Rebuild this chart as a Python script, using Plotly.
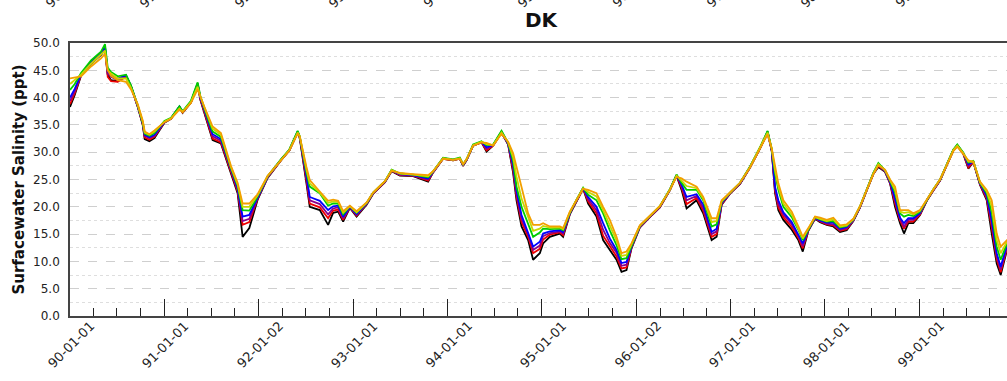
import datetime as dt
import plotly.graph_objects as go

# ---- data (decimal years, salinity ppt) ----
t_years = [1989.750, 1989.800, 1989.867, 1989.973, 1990.079, 1990.121, 1990.150, 1990.185, 1990.256, 1990.344,
           1990.397, 1990.468, 1990.521, 1990.542, 1990.592, 1990.645, 1990.751, 1990.821, 1990.910, 1990.944,
           1991.032, 1991.103, 1991.132, 1991.174, 1991.262, 1991.350, 1991.456, 1991.527, 1991.580, 1991.651,
           1991.739, 1991.845, 1991.986, 1992.075, 1992.163, 1992.185, 1992.256, 1992.291, 1992.397, 1992.485,
           1992.538, 1992.591, 1992.644, 1992.715, 1992.786, 1992.892, 1992.961, 1993.086, 1993.157, 1993.244,
           1993.385, 1993.544, 1993.597, 1993.703, 1993.809, 1993.880, 1993.915, 1993.951, 1994.021, 1994.110,
           1994.163, 1994.233, 1994.322, 1994.392, 1994.445, 1994.481, 1994.534, 1994.604, 1994.657, 1994.728,
           1994.763, 1994.834, 1994.940, 1994.975, 1995.046, 1995.117, 1995.187, 1995.240, 1995.329, 1995.399,
           1995.470, 1995.541, 1995.594, 1995.647, 1995.700, 1995.788, 1995.894, 1996.000, 1996.106, 1996.177,
           1996.230, 1996.283, 1996.389, 1996.459, 1996.548, 1996.601, 1996.654, 1996.742, 1996.848, 1996.954,
           1997.060, 1997.140, 1997.184, 1997.219, 1997.254, 1997.307, 1997.396, 1997.466, 1997.513, 1997.572,
           1997.643, 1997.696, 1997.767, 1997.837, 1997.908, 1997.979, 1998.049, 1998.120, 1998.191, 1998.261,
           1998.314, 1998.385, 1998.438, 1998.491, 1998.544, 1998.586, 1998.632, 1998.685, 1998.756, 1998.827,
           1998.897, 1998.968, 1999.039, 1999.109, 1999.151, 1999.215, 1999.268, 1999.321, 1999.392, 1999.463,
           1999.516, 1999.569, 1999.611, 1999.678, 1999.763]

s_black = [38.3, 40.5, 44.0, 46.2, 47.8, 48.8, 44.2, 43.2, 43.0, 44.0, 42.0, 38.3, 35.0, 32.4, 32.0, 32.6, 35.4, 36.1, 38.3, 37.2,
           39.1, 42.4, 39.6, 37.2, 32.2, 31.6, 26.2, 22.5, 14.5, 16.1, 21.3, 25.3, 28.5, 30.3, 33.6, 32.6, 24.3, 20.0, 19.4, 16.7,
           18.9, 19.1, 17.3, 19.8, 18.2, 20.4, 22.4, 24.5, 26.5, 25.7, 25.6, 24.6, 26.3, 28.8, 28.5, 28.8, 27.5, 28.5, 31.2, 31.8,
           30.1, 31.2, 33.6, 31.4, 26.2, 21.2, 16.4, 13.9, 10.3, 11.5, 13.3, 14.5, 15.1, 14.5, 18.6, 21.0, 23.3, 20.6, 18.2, 13.9,
           12.1, 10.3, 8.1, 8.4, 12.4, 16.2, 18.1, 19.9, 23.0, 25.7, 23.1, 19.7, 21.2, 18.8, 13.9, 14.5, 20.4, 22.4, 24.2, 27.2,
           30.7, 33.6, 30.2, 22.5, 19.4, 17.6, 15.8, 13.9, 11.8, 15.6, 17.8, 17.2, 16.7, 16.4, 15.4, 15.7, 17.4, 19.9, 23.0, 26.0,
           27.3, 26.4, 24.3, 20.0, 17.0, 15.1, 17.0, 17.0, 18.5, 21.1, 23.0, 24.8, 27.6, 30.3, 31.2, 29.7, 27.0, 28.2, 24.0, 21.2,
           15.1, 9.6, 7.5, 12.1, 14.5]

s_red = [38.8, 40.8, 44.1, 46.3, 47.9, 49.0, 43.8, 43.0, 42.9, 43.8, 42.0, 38.4, 35.1, 32.7, 32.3, 32.8, 35.5, 36.1, 38.3, 37.3,
         39.1, 42.5, 39.7, 37.4, 32.5, 31.8, 26.4, 22.8, 16.7, 17.2, 21.5, 25.4, 28.5, 30.3, 33.6, 32.7, 24.8, 20.6, 19.9, 17.9,
         19.3, 19.5, 17.6, 19.9, 18.4, 20.5, 22.4, 24.5, 26.6, 25.8, 25.7, 24.8, 26.3, 28.8, 28.5, 28.8, 27.6, 28.5, 31.2, 31.8,
         30.3, 31.2, 33.6, 31.5, 26.7, 21.8, 17.2, 14.5, 11.5, 12.3, 14.0, 14.9, 15.3, 14.8, 18.7, 21.1, 23.3, 21.0, 18.8, 14.7,
         12.7, 10.9, 8.7, 8.9, 12.5, 16.3, 18.1, 19.9, 23.0, 25.7, 23.5, 20.5, 21.6, 19.3, 14.5, 15.0, 20.5, 22.4, 24.2, 27.2,
         30.7, 33.6, 30.3, 22.9, 19.9, 18.1, 16.3, 14.3, 12.4, 15.7, 17.9, 17.3, 16.8, 16.6, 15.6, 15.9, 17.5, 19.9, 23.0, 26.0,
         27.5, 26.5, 24.4, 20.6, 17.5, 16.0, 17.3, 17.3, 18.6, 21.1, 23.0, 24.8, 27.6, 30.3, 31.2, 29.7, 27.2, 28.2, 24.1, 21.5,
         16.2, 10.4, 8.0, 12.4, 14.7]

s_purple = [39.4, 41.2, 44.2, 46.4, 48.0, 49.2, 44.4, 43.8, 43.2, 44.0, 42.0, 38.4, 35.2, 33.0, 32.6, 33.0, 35.5, 36.2, 38.3, 37.4,
            39.2, 42.5, 39.9, 37.6, 32.9, 32.1, 26.6, 23.1, 17.4, 17.8, 21.6, 25.4, 28.6, 30.4, 33.7, 32.8, 25.3, 21.2, 20.5, 18.6,
            19.7, 19.9, 17.9, 19.9, 18.5, 20.5, 22.5, 24.6, 26.6, 25.9, 25.7, 25.0, 26.4, 28.9, 28.6, 28.9, 27.6, 28.6, 31.3, 31.9,
            30.6, 31.3, 33.7, 31.5, 27.2, 22.4, 17.8, 15.0, 12.1, 12.9, 14.6, 15.2, 15.5, 15.1, 18.8, 21.1, 23.4, 21.4, 19.4, 15.8,
            13.4, 11.6, 9.2, 9.4, 12.6, 16.3, 18.2, 20.0, 23.1, 25.8, 23.8, 21.2, 22.0, 19.8, 15.0, 15.5, 20.6, 22.5, 24.3, 27.3,
            30.8, 33.7, 30.4, 23.3, 20.5, 18.6, 16.8, 14.7, 12.8, 15.8, 17.9, 17.4, 16.9, 16.8, 15.8, 16.1, 17.5, 20.0, 23.1, 26.1,
            27.7, 26.5, 24.5, 21.1, 17.8, 16.4, 17.6, 17.6, 18.8, 21.2, 23.1, 24.9, 27.7, 30.4, 31.3, 29.8, 27.5, 28.3, 24.2, 21.8,
            17.0, 11.0, 8.5, 12.7, 14.9]

s_blue = [40.0, 41.6, 44.3, 46.5, 48.1, 49.4, 44.8, 44.2, 43.5, 44.1, 42.1, 38.5, 35.3, 33.2, 32.8, 33.2, 35.6, 36.2, 38.4, 37.4,
          39.2, 42.6, 40.0, 37.8, 33.3, 32.4, 26.8, 23.4, 18.2, 18.5, 21.7, 25.5, 28.6, 30.4, 33.8, 32.8, 25.7, 21.8, 21.1, 19.4,
          20.1, 20.2, 18.2, 20.0, 18.7, 20.6, 22.5, 24.6, 26.7, 26.0, 25.8, 25.2, 26.4, 28.9, 28.6, 28.9, 27.7, 28.6, 31.3, 31.9,
          30.9, 31.3, 33.8, 31.6, 27.7, 23.0, 18.5, 15.4, 12.7, 13.6, 15.1, 15.5, 15.7, 15.4, 18.8, 21.2, 23.4, 21.8, 20.0, 17.0,
          14.2, 12.1, 9.7, 9.9, 12.7, 16.4, 18.2, 20.0, 23.1, 25.8, 24.1, 21.8, 22.3, 20.4, 15.4, 16.0, 20.7, 22.5, 24.3, 27.3,
          30.8, 33.8, 30.4, 23.7, 21.2, 19.0, 17.2, 15.0, 13.3, 15.8, 18.0, 17.5, 17.1, 17.1, 16.0, 16.3, 17.6, 20.0, 23.1, 26.1,
          27.8, 26.6, 24.6, 21.6, 18.0, 17.0, 17.9, 17.9, 18.9, 21.2, 23.1, 24.9, 27.7, 30.4, 31.3, 29.8, 27.8, 28.3, 24.3, 22.1,
          17.6, 11.5, 9.0, 13.0, 15.1]

s_green = [41.4, 42.5, 44.5, 46.8, 48.4, 49.8, 45.5, 44.7, 43.9, 44.2, 42.2, 38.6, 35.4, 33.4, 33.0, 33.5, 35.7, 36.3, 38.4, 37.5,
           39.4, 42.8, 40.3, 38.0, 33.8, 32.8, 27.1, 23.8, 19.4, 19.3, 21.9, 25.6, 28.7, 30.5, 33.9, 32.9, 26.3, 23.7, 22.5, 20.2,
           20.6, 20.6, 18.6, 20.1, 18.9, 20.7, 22.6, 24.7, 26.8, 26.1, 25.9, 25.4, 26.5, 29.0, 28.7, 29.0, 27.8, 28.7, 31.4, 32.0,
           31.3, 31.4, 33.9, 31.7, 28.4, 23.7, 20.0, 17.0, 14.5, 15.3, 16.0, 15.9, 16.0, 15.7, 18.9, 21.3, 23.5, 22.2, 21.2, 18.8,
           15.7, 13.0, 10.4, 10.6, 12.9, 16.5, 18.3, 20.1, 23.2, 25.9, 24.4, 23.1, 23.1, 21.2, 16.4, 16.8, 20.9, 22.6, 24.4, 27.4,
           30.9, 33.9, 30.6, 26.1, 23.1, 20.0, 18.1, 15.8, 13.9, 15.9, 18.1, 17.7, 17.3, 17.4, 16.2, 16.5, 17.7, 20.1, 23.2, 26.2,
           28.0, 26.7, 24.8, 22.6, 18.8, 18.2, 18.5, 18.3, 19.1, 21.3, 23.2, 25.0, 27.8, 30.5, 31.4, 29.9, 28.1, 28.4, 24.4, 22.5,
           19.0, 12.7, 10.3, 13.3, 15.3]

s_yellow = [42.5, 43.2, 44.2, 46.2, 47.8, 48.6, 45.0, 44.4, 43.5, 43.5, 41.8, 38.6, 35.6, 33.6, 33.2, 33.8, 35.6, 36.2, 38.0, 37.4,
            39.2, 42.0, 40.2, 38.2, 34.3, 33.2, 27.3, 24.1, 20.0, 20.0, 22.1, 25.6, 28.6, 30.4, 33.6, 32.9, 26.8, 24.3, 22.6, 20.7,
            21.0, 20.9, 18.9, 20.1, 19.0, 20.7, 22.6, 24.7, 26.7, 26.1, 25.9, 25.6, 26.5, 28.9, 28.6, 28.9, 27.8, 28.7, 31.3, 31.9,
            31.5, 31.3, 33.6, 31.8, 29.1, 25.5, 21.5, 17.9, 15.6, 16.0, 16.5, 16.2, 16.2, 15.9, 19.0, 21.3, 23.4, 22.7, 21.9, 19.4,
            16.7, 13.8, 11.0, 11.2, 13.1, 16.5, 18.3, 20.1, 23.1, 25.7, 24.8, 23.8, 23.4, 21.5, 17.2, 17.4, 21.0, 22.6, 24.4, 27.3,
            30.8, 33.6, 30.6, 26.7, 23.7, 20.6, 18.6, 16.1, 14.2, 16.0, 18.1, 17.8, 17.4, 17.7, 16.4, 16.6, 17.7, 20.1, 23.1, 26.1,
            27.8, 26.7, 24.9, 23.1, 19.1, 18.9, 19.0, 18.6, 19.3, 21.3, 23.2, 25.0, 27.7, 30.4, 31.2, 29.8, 28.3, 28.3, 24.5, 22.8,
            20.1, 13.9, 11.5, 13.6, 15.5]

s_orange = [43.5, 43.7, 43.9, 45.7, 47.2, 48.0, 45.0, 44.0, 43.2, 42.9, 41.5, 38.8, 35.8, 33.8, 33.3, 34.0, 35.5, 36.1, 37.8, 37.3,
            39.0, 41.5, 40.1, 38.3, 34.7, 33.5, 27.5, 24.4, 20.6, 20.6, 22.3, 25.7, 28.5, 30.3, 33.4, 32.9, 27.3, 24.9, 22.8, 21.1,
            21.3, 21.1, 19.2, 20.2, 19.2, 20.8, 22.6, 24.7, 26.6, 26.2, 26.0, 25.8, 26.5, 28.8, 28.6, 28.8, 27.8, 28.7, 31.2, 31.8,
            31.7, 31.2, 33.4, 31.9, 29.8, 27.3, 23.1, 18.8, 16.7, 16.7, 17.0, 16.4, 16.4, 16.1, 19.1, 21.3, 23.3, 23.1, 22.5, 20.0,
            17.6, 14.5, 11.5, 11.8, 13.3, 16.6, 18.3, 20.1, 23.1, 25.5, 25.2, 24.6, 23.7, 21.8, 17.9, 17.9, 21.2, 22.6, 24.4, 27.2,
            30.6, 33.3, 30.7, 27.3, 24.3, 21.2, 19.1, 16.4, 14.5, 16.1, 18.2, 18.0, 17.6, 18.0, 16.6, 16.8, 17.8, 20.1, 23.0, 26.0,
            27.6, 26.8, 25.0, 23.7, 19.4, 19.4, 19.4, 18.8, 19.4, 21.3, 23.2, 25.0, 27.6, 30.2, 31.0, 29.7, 28.5, 28.2, 24.6, 23.1,
            21.2, 15.1, 12.7, 13.9, 15.7]

series_names = ["s1", "s2", "s3", "s4", "s5", "s6", "s7"]
series_colors = ["#000000", "#EE0000", "#8B008B", "#0000FF", "#00CC00", "#C8D800", "#F2A000"]

tick_labels = ["90-01-01", "91-01-01", "92-01-02", "93-01-01", "94-01-01",
               "95-01-01", "96-01-02", "97-01-01", "98-01-01", "99-01-01"]
x_start = 1989.75
x_end = 1999.678


def to_date(t):
    y = int(t)
    a = dt.datetime(y, 1, 1)
    b = dt.datetime(y + 1, 1, 1)
    return a + (b - a) * (t - y)


dates = [to_date(t) for t in t_years]
tick_vals = ["19" + s for s in tick_labels]
years = list(range(1989, 2000))
quarter_ticks = [f"{y}-{m:02d}-01" for y in years for m in (4, 7)]
oct_ticks = [f"{y}-10-01" for y in years]
xr = [to_date(x_start), to_date(x_end)]

all_series = [s_black, s_red, s_purple, s_blue, s_green, s_yellow, s_orange]

fig = go.Figure()
for i, (name, col, vals) in enumerate(zip(series_names, series_colors, all_series)):
    fig.add_trace(go.Scatter(
        x=dates, y=vals, mode="lines", name=name,
        line=dict(color=col, width=1.8),
        xaxis="x2" if i == len(all_series) - 1 else "x",
        showlegend=False, hoverinfo="skip"))

font_family = "DejaVu Sans, Verdana, sans-serif"

fig.update_layout(
    width=1007, height=381,
    margin=dict(l=70, r=0, t=43, b=65, autoexpand=False),
    paper_bgcolor="white", plot_bgcolor="white",
    font=dict(family=font_family, color="#222"),
    xaxis=dict(
        type="date", range=xr, automargin=False,
        tickmode="array", tickvals=tick_vals, ticktext=tick_labels,
        showticklabels=False,
        ticks="inside", ticklen=8, tickwidth=1.2, tickcolor="#222",
        minor=dict(tickmode="array", tickvals=quarter_ticks, ticks="inside",
                   ticklen=8, tickwidth=1.2, tickcolor="#222", showgrid=False),
        showgrid=False, zeroline=False,
        showline=True, linecolor="#444", linewidth=1.6, mirror=True,
    ),
    xaxis2=dict(
        type="date", range=xr, overlaying="x", anchor="y", side="bottom",
        automargin=False,
        tickmode="array", tickvals=oct_ticks, showticklabels=False,
        ticks="inside", ticklen=17, tickwidth=1.2, tickcolor="#222",
        showgrid=False, zeroline=False, showline=False,
    ),
    yaxis=dict(
        range=[0, 50], tick0=0, dtick=5, tickformat=".1f", automargin=False,
        tickfont=dict(size=12, color="#222"),
        ticks="outside", ticklen=6, tickcolor="rgba(0,0,0,0)",
        showgrid=True, gridcolor="#cfcfcf", griddash="dash", gridwidth=1,
        minor=dict(tick0=0, dtick=2.5, showgrid=True, gridcolor="#dedede",
                   griddash="dot", gridwidth=1),
        zeroline=False, showline=True, linecolor="#444", linewidth=1.6,
        title=dict(text="<b>Surfacewater Salinity (ppt)</b>",
                   font=dict(size=15, color="#111"), standoff=5),
    ),
)

fig.add_annotation(text="<b>DK</b>", xref="paper", yref="paper",
                   x=(541.5 - 70) / 937, y=(316 - 19.5) / 273,
                   showarrow=False, font=dict(size=20, color="#111"),
                   xanchor="center", yanchor="middle")

# rotated date labels under the axis
for tv, lab in zip(tick_vals, tick_labels):
    fig.add_annotation(text=lab, xref="x", yref="paper", x=tv, y=0,
                       yshift=0, xshift=7, textangle=-45, showarrow=False,
                       font=dict(size=13, color="#222"),
                       xanchor="right", yanchor="top")

# cut-off tick labels of the chart stacked above
for tv, lab in zip(tick_vals, tick_labels):
    fig.add_annotation(text=lab, xref="x", yref="paper", x=tv,
                       y=(316 - 13) / 273, textangle=-45, showarrow=False,
                       font=dict(size=13, color="#222"), xshift=4,
                       xanchor="right", yanchor="bottom")

fig.write_html("out.html",
               config={"displayModeBar": False},
               post_script="document.body.style.margin='0px';"
                           "document.body.style.overflow='hidden';")
